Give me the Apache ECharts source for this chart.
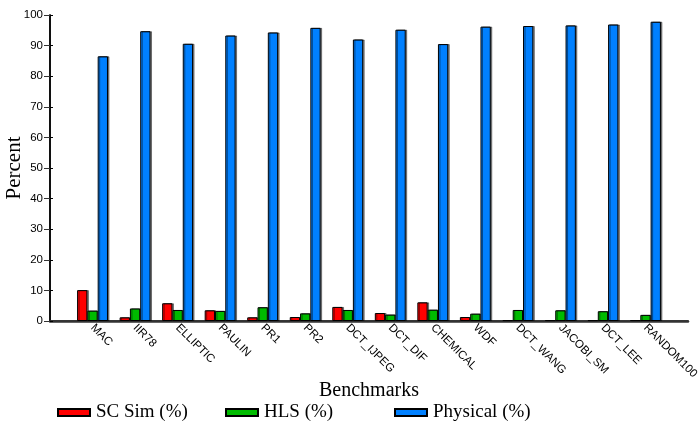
<!DOCTYPE html>
<html>
<head>
<meta charset="utf-8">
<script src="https://cdn.jsdelivr.net/npm/echarts@6/dist/echarts.min.js"></script>
<style>html,body{margin:0;padding:0;background:#fff;}#c{width:699px;height:423px;}</style>
</head>
<body>
<div id="c"></div>
<script>
const categories = ['MAC', 'IIR78', 'ELLIPTIC', 'PAULIN', 'PR1', 'PR2', 'DCT_IJPEG', 'DCT_DIF', 'CHEMICAL', 'WDF', 'DCT_WANG', 'JACOBI_SM', 'DCT_LEE', 'RANDOM100'];
const scSim    = [10.1, 1.2, 5.8, 3.5, 1.2, 1.3, 4.6, 2.6, 6.1, 1.3, 0.3, 0.3, 0.3, 0.3];
const hls      = [3.4, 4.1, 3.6, 3.3, 4.5, 2.5, 3.6, 2.1, 3.7, 2.4, 3.6, 3.5, 3.2, 2.0];
const physical = [86.5, 94.7, 90.6, 93.3, 94.3, 95.8, 92.0, 95.2, 90.5, 96.2, 96.4, 96.6, 96.9, 97.8];
const yTicks = [0, 10, 20, 30, 40, 50, 60, 70, 80, 90, 100];
const seriesNames = ['SC Sim (%)', 'HLS (%)', 'Physical (%)'];
const colors = ['#ff0000', '#00bb00', '#0080ff'];

const chart = echarts.init(document.getElementById('c'), null, {renderer: 'canvas'});
const serif = 'Liberation Serif, Times New Roman, serif';
const sans = 'Liberation Sans, Arial, Helvetica, sans-serif';
const values = [scSim, hls, physical];
const series = seriesNames.map((n, i) => ({
  name: n,
  type: 'bar',
  data: values[i].map((v, k) => [k + 1, v]),
  barWidth: 10.3,
  barGap: '0%',
  itemStyle: {
    color: colors[i],
    borderColor: '#000',
    borderWidth: 1,
    shadowColor: 'rgba(0,0,0,0.45)',
    shadowOffsetX: 1.5,
    shadowOffsetY: 0,
    shadowBlur: 0
  }
}));
const legendLeft = [57, 225, 394];
const legends = seriesNames.map((n, i) => ({
  data: [n],
  left: legendLeft[i],
  top: 403,
  itemWidth: 32,
  itemHeight: 7,
  icon: 'rect',
  padding: 0,
  textStyle: {fontFamily: serif, fontSize: 19, color: '#000', padding: [0, 0, 6, 1]}
}));
chart.setOption({
  animation: false,
  backgroundColor: '#fff',
  grid: {left: 50, right: 11, top: 15, bottom: 102, outerBoundsMode: 'none', containLabel: false},
  legend: legends,
  xAxis: [{
    type: 'value',
    min: 0, max: categories.length + 1, interval: 1,
    name: 'Benchmarks',
    nameLocation: 'middle',
    nameGap: 60,
    nameMoveOverlap: false,
    nameTextStyle: {fontFamily: serif, fontSize: 20, color: '#000'},
    axisLine: {show: true, lineStyle: {color: '#000', width: 1.5}},
    axisTick: {show: false},
    splitLine: {show: false},
    axisLabel: {rotate: -45, margin: 5, fontFamily: sans, fontSize: 11.5, color: '#000',
      showMinLabel: false, showMaxLabel: false,
      formatter: v => (v >= 1 && v <= categories.length) ? categories[v - 1] : ''}
  }, {
    type: 'value',
    min: 0, max: categories.length + 1,
    position: 'top',
    axisLine: {show: true, lineStyle: {color: '#333', width: 2.5}},
    axisTick: {show: false},
    axisLabel: {show: false},
    splitLine: {show: false}
  }],
  yAxis: [{
    type: 'value',
    min: 0, max: 100, interval: 10,
    name: 'Percent',
    nameLocation: 'middle',
    nameGap: 25,
    nameMoveOverlap: false,
    nameTextStyle: {fontFamily: serif, fontSize: 21, color: '#000'},
    axisLine: {show: true, lineStyle: {color: '#000', width: 1.5}},
    axisTick: {show: true, inside: true, length: 3, lineStyle: {color: '#000'}},
    splitLine: {show: false},
    axisLabel: {margin: 7, fontFamily: sans, fontSize: 11.5, color: '#000',
      formatter: v => yTicks.indexOf(v) >= 0 ? String(v) : ''}
  }, {
    type: 'value',
    min: 0, max: 100, interval: 10,
    position: 'right',
    axisLine: {show: true, lineStyle: {color: '#000', width: 1.5}},
    axisTick: {show: true, inside: true, length: 6, lineStyle: {color: '#333'}},
    axisLabel: {show: false},
    splitLine: {show: false}
  }],
  series: series
});
</script>
</body>
</html>
